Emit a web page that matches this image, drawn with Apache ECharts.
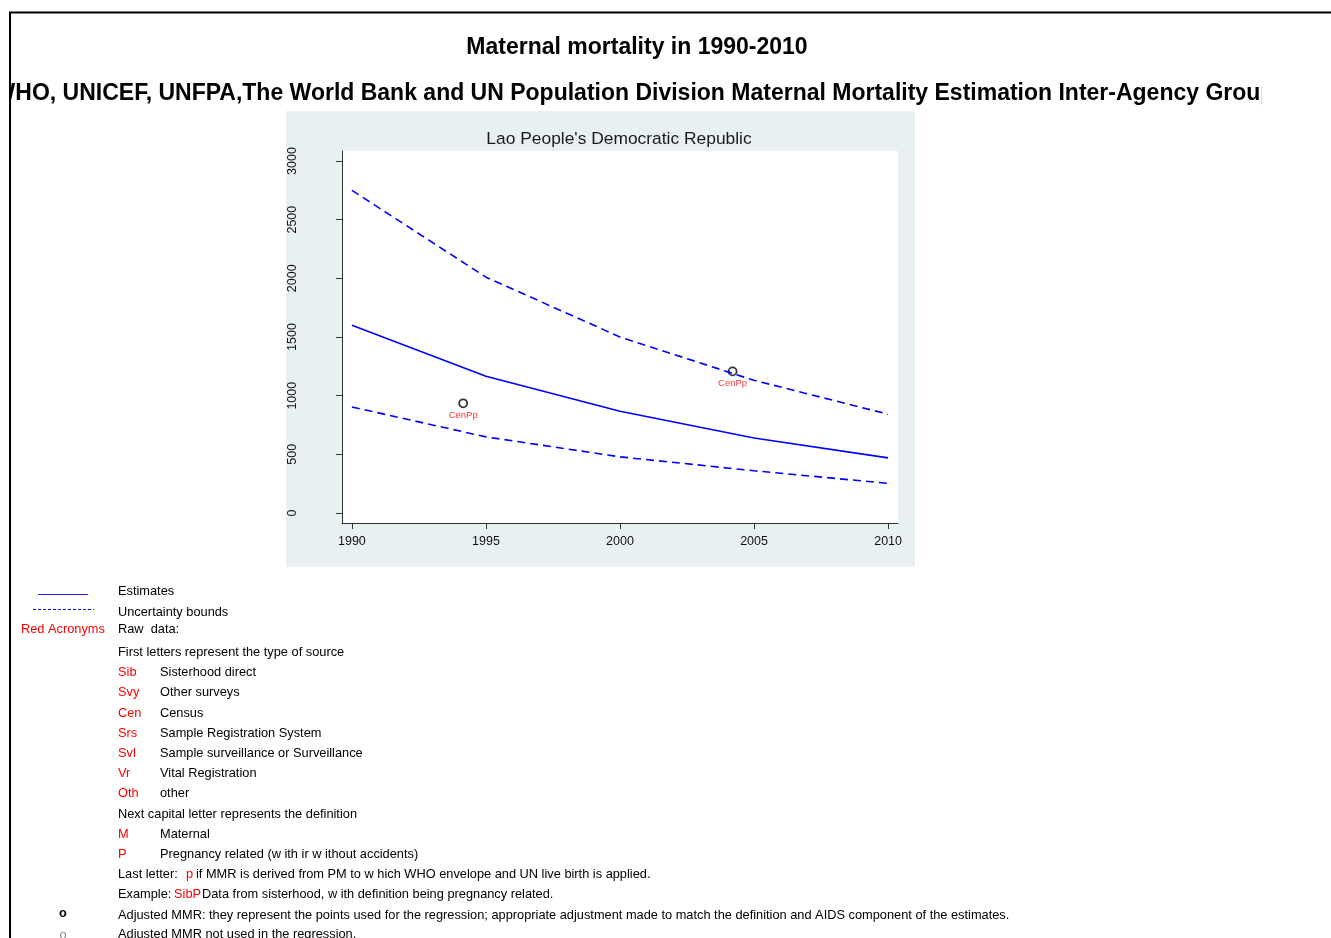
<!DOCTYPE html>
<html>
<head>
<meta charset="utf-8">
<script src="https://cdn.jsdelivr.net/npm/echarts@6/dist/echarts.min.js"></script>
<style>
html,body{margin:0;padding:0;background:#fff;}
#chart{width:1331px;height:938px;}
</style>
</head>
<body>
<div id="chart"></div>
<script>
const years = [1990, 1995, 2000, 2005, 2010];
const estimates = [1600, 1165, 867, 640, 470];
const upperBound = [2750, 2010, 1500, 1131, 842];
const lowerBound = [904, 649, 479, 360, 253];
const rawPoints = [[1994.15, 935], [2004.2, 1207]];
const rawLabels = ['CenPp', 'CenPp'];
const xTicks = [1990, 1995, 2000, 2005, 2010];
const yTicks = [0, 500, 1000, 1500, 2000, 2500, 3000];

const FONT = 'Liberation Sans, Arial, sans-serif';
const chart = echarts.init(document.getElementById('chart'), null, {renderer: 'canvas'});

function pair(xs, ys) { return xs.map((x, i) => [x, ys[i]]); }

const legendRows = [
  {y: 671, code: 'Sib', desc: 'Sisterhood direct'},
  {y: 691, code: 'Svy', desc: 'Other surveys'},
  {y: 712, code: 'Cen', desc: 'Census'},
  {y: 732, code: 'Srs', desc: 'Sample Registration System'},
  {y: 752, code: 'Svl', desc: 'Sample surveillance or Surveillance'},
  {y: 772, code: 'Vr', desc: 'Vital Registration'},
  {y: 792, code: 'Oth', desc: 'other'},
  {y: 833, code: 'M', desc: 'Maternal'},
  {y: 853, code: 'P', desc: 'Pregnancy related (w ith ir w ithout accidents)'}
];

const LS = 12.8;
function txt(x, y, text, opts) {
  opts = opts || {};
  return {
    type: 'text', x: x, y: y, z: 10,
    style: {
      text: text,
      fill: opts.fill || '#000',
      font: (opts.weight || 'normal') + ' ' + (opts.size || LS) + 'px ' + FONT,
      textAlign: opts.align || 'left',
      textVerticalAlign: 'middle'
    }
  };
}
const dy = 1.5;

const graphics = [
  {type: 'rect', shape: {x: 286, y: 111, width: 629, height: 456}, style: {fill: '#e9f0f2'}, z: -10, silent: true},
  {type: 'rect', shape: {x: 342, y: 151, width: 556, height: 372}, style: {fill: '#ffffff'}, z: -9, silent: true},
  txt(619, 139.5, "Lao People's Democratic Republic", {size: 17.4, fill: '#1a1a1a', align: 'center'}),
  txt(637, 48, 'Maternal mortality in 1990-2010', {size: 23, weight: 'bold', align: 'center'}),
  txt(634, 94, 'WHO, UNICEF, UNFPA,The World Bank and UN Population Division Maternal Mortality Estimation Inter-Agency Group', {size: 23, weight: 'bold', align: 'center'}),
  {type: 'rect', shape: {x: 0, y: 70, width: 10, height: 45}, style: {fill: '#fff'}, z: 20, silent: true},
  {type: 'rect', shape: {x: 1262, y: 70, width: 69, height: 45}, style: {fill: '#fff'}, z: 20, silent: true},
  {type: 'polyline', shape: {points: [[10, 938], [10, 12.5], [1331, 12.5]]}, style: {stroke: '#000', lineWidth: 2, fill: null}, z: 30, silent: true},
  {type: 'line', shape: {x1: 38, y1: 594.5, x2: 88, y2: 594.5}, style: {stroke: '#2020ff', lineWidth: 1}, z: 10},
  {type: 'line', shape: {x1: 33, y1: 609.5, x2: 94, y2: 609.5}, style: {stroke: '#0000ff', lineWidth: 1, lineDash: [3, 2]}, z: 10},
  txt(118, 590 + dy, 'Estimates'),
  txt(118, 611 + dy, 'Uncertainty bounds'),
  txt(21, 628 + dy, 'Red Acronyms', {fill: '#ff0000'}),
  txt(118, 628 + dy, 'Raw  data:'),
  txt(118, 651 + dy, 'First letters represent the type of source'),
  txt(118, 813 + dy, 'Next capital letter represents the definition'),
  txt(118, 873 + dy, 'Last letter:'),
  txt(186, 873 + dy, 'p', {fill: '#ff0000'}),
  txt(196, 873 + dy, 'if MMR is derived from PM to w hich WHO envelope and UN live birth is applied.'),
  txt(118, 893 + dy, 'Example:'),
  txt(174, 893 + dy, 'SibP', {fill: '#ff0000'}),
  txt(202, 893 + dy, 'Data from sisterhood, w ith definition being pregnancy related.'),
  txt(63, 913, 'o', {weight: 'bold', align: 'center'}),
  txt(118, 914 + dy, 'Adjusted MMR: they represent the points used for the regression; appropriate adjustment made to match the definition and AIDS component of the estimates.'),
  txt(63, 935, 'o', {fill: '#888', align: 'center'}),
  txt(118, 933 + dy, 'Adjusted MMR not used in the regression.')
];
legendRows.forEach(r => {
  graphics.push(txt(118, r.y + dy, r.code, {fill: '#ff0000'}));
  graphics.push(txt(160, r.y + dy, r.desc));
});

const axisCol = '#333';

const option = {
  animation: false,
  backgroundColor: '#ffffff',
  grid: {left: 342, right: 433, top: 151, bottom: 415, containLabel: false},
  xAxis: {
    type: 'value', min: 1989.63, max: 2010.37,
    axisLine: {show: true, onZero: false, lineStyle: {color: axisCol, width: 1}},
    axisTick: {show: true, length: 6, customValues: xTicks, lineStyle: {color: axisCol}},
    axisLabel: {customValues: xTicks, margin: 12, fontSize: 12.5, color: '#111', fontFamily: FONT, formatter: v => String(v)},
    splitLine: {show: false}
  },
  yAxis: {
    type: 'value', min: -85, max: 3085,
    axisLine: {show: true, onZero: false, lineStyle: {color: axisCol, width: 1}},
    axisTick: {show: true, length: 6, customValues: yTicks, lineStyle: {color: axisCol}},
    axisLabel: {customValues: yTicks, rotate: 90, margin: 43, fontSize: 12.5, color: '#111', fontFamily: FONT, formatter: v => String(v)},
    splitLine: {show: false}
  },
  graphic: graphics,
  series: [
    {type: 'line', data: pair(years, estimates), symbol: 'none', lineStyle: {color: '#0000ff', width: 1.6}},
    {type: 'line', data: pair(years, upperBound), symbol: 'none', lineStyle: {color: '#0000ff', width: 1.6, type: [8, 5]}},
    {type: 'line', data: pair(years, lowerBound), symbol: 'none', lineStyle: {color: '#0000ff', width: 1.6, type: [8, 5]}},
    {type: 'scatter', data: rawPoints.map((p, i) => ({value: p, name: rawLabels[i]})), symbol: 'circle', symbolSize: 8,
      itemStyle: {color: '#fff', borderColor: '#000', borderWidth: 1.8},
      label: {show: true, position: 'bottom', distance: 2, formatter: p => p.name, color: '#ff0000', fontSize: 9.5, fontFamily: FONT}}
  ]
};
chart.setOption(option);
</script>
</body>
</html>
